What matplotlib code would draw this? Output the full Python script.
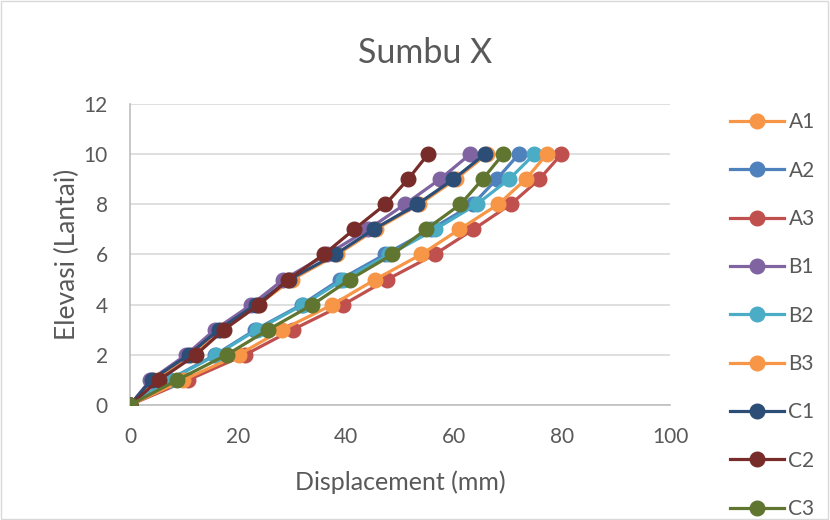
import matplotlib.pyplot as plt
from matplotlib.patches import Rectangle

plt.rcParams['font.family'] = ['Lato', 'DejaVu Sans']

# elevasi (lantai)
floors = [0, 1, 2, 3, 4, 5, 6, 7, 8, 9, 10]

# displacement (mm) per titik
A1 = [0, 4.4, 11.3, 16.8, 23.7, 30.0, 38.4, 45.5, 53.6, 60.3, 66.1]
A2 = [0, 7.2, 15.8, 23.2, 31.8, 38.9, 47.2, 55.7, 63.5, 67.9, 72.0]
A3 = [0, 10.8, 21.3, 30.1, 39.5, 47.6, 56.4, 63.6, 70.5, 75.8, 79.9]
B1 = [0, 3.8, 10.4, 15.7, 22.5, 28.4, 36.5, 44.1, 50.9, 57.4, 63.0]
B2 = [0, 7.4, 16.0, 23.5, 32.1, 39.5, 48.0, 56.5, 64.2, 70.2, 74.9]
B3 = [0, 9.9, 20.1, 28.2, 37.5, 45.4, 53.9, 61.0, 68.2, 73.3, 77.2]
C1 = [0, 4.0, 10.9, 16.4, 23.3, 29.5, 38.0, 45.1, 53.2, 59.9, 65.7]
C2 = [0, 5.4, 12.2, 17.4, 23.9, 29.3, 35.9, 41.5, 47.3, 51.5, 55.2]
C3 = [0, 8.8, 17.9, 25.6, 33.8, 40.7, 48.6, 54.8, 61.2, 65.3, 69.1]

names = ['A1', 'A2', 'A3', 'B1', 'B2', 'B3', 'C1', 'C2', 'C3']
series = [A1, A2, A3, B1, B2, B3, C1, C2, C3]
colors = ['#F79646', '#4F81BD', '#C0504D', '#8064A2', '#4BACC6',
          '#F79646', '#2C4D75', '#772C2A', '#5F7530']

grey = '#595959'

fig = plt.figure(figsize=(8.3, 5.2), dpi=100)
ax = fig.add_axes([0.1566, 0.2212, 0.6506, 0.5788])

for i, (nm, xs, c) in enumerate(zip(names, series, colors)):
    ax.plot(xs, floors, color=c, lw=2.3, marker='o', markersize=10.5,
            label=nm, zorder=3 + i)

ax.set_xlim(0, 100)
ax.set_ylim(0, 12)
ax.set_xticks(range(0, 101, 20))
ax.set_yticks(range(0, 13, 2))
ax.tick_params(length=0, labelsize=15, labelcolor=grey)
ax.tick_params(axis='x', pad=16)
ax.tick_params(axis='y', pad=16)
ax.grid(axis='y', color='#D9D9D9', lw=1.2)
ax.set_axisbelow(True)
for s in ['top', 'right']:
    ax.spines[s].set_visible(False)
for s in ['left', 'bottom']:
    ax.spines[s].set_color('#BFBFBF')
    ax.spines[s].set_linewidth(1.2)

ax.set_xlabel('Displacement (mm)', fontsize=18, color=grey, labelpad=17)
ax.set_ylabel('Elevasi (Lantai)', fontsize=19, color=grey)
ax.yaxis.set_label_coords(-0.093, 0.5)
fig.text(0.512, 0.879, 'Sumbu X', fontsize=24.5, color=grey,
         ha='center', va='baseline')

leg = ax.legend(loc='upper left', bbox_to_anchor=(1.096, 1.0), frameon=False,
                fontsize=15, handlelength=2.6, labelspacing=1.36,
                handletextpad=0.2, borderaxespad=0)
for t in leg.get_texts():
    t.set_color(grey)

fig.patches.append(Rectangle((0.001, 0.002), 0.996, 0.996,
                             transform=fig.transFigure, fill=False,
                             edgecolor='#D9D9D9', lw=1))

fig.savefig('out.png', dpi=100)
